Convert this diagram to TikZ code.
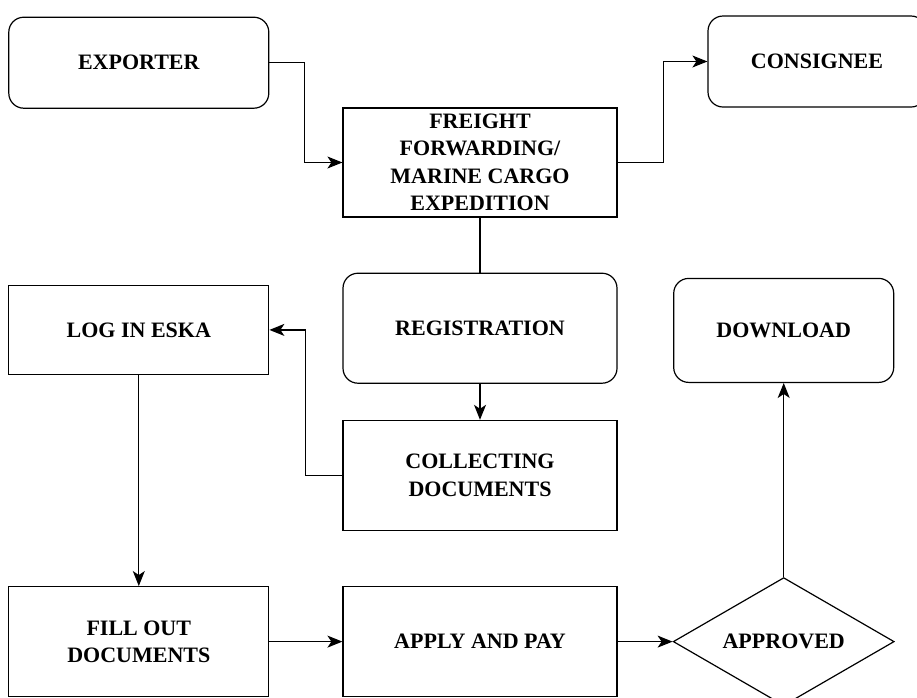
\documentclass[tikz,border=0pt]{standalone}
\usepackage{fontspec}
\setmainfont{Liberation Serif}
\usetikzlibrary{arrows.meta, positioning, shapes.geometric}

\begin{document}
\begin{tikzpicture}[x=1pt, y=-1pt, >={Stealth[length=15pt, width=12pt, inset=4pt]},
  line width=1.2pt,
  font=\fontsize{22}{27.5}\selectfont\bfseries,
  sqbox/.style={draw, align=center, inner sep=2pt, minimum width=274pt, minimum height=110pt},
  box/.style={sqbox, rounded corners=15pt},
  sidebox/.style={sqbox, minimum width=260pt},
  dec/.style={draw, diamond, aspect=1.73, inner sep=0pt, minimum width=221pt, minimum height=128pt}]
\clip (0,0) rectangle (917,697);
\node[sqbox, minimum height=109pt] (freight) at (480,162.5) {FREIGHT\\ FORWARDING/\\ MARINE CARGO\\ EXPEDITION};
\node[box, below=55pt of freight] (reg) {REGISTRATION};
\node[sqbox, below=36pt of reg] (coll) {COLLECTING\\ DOCUMENTS};
\node[sqbox, below=55pt of coll] (apply) {APPLY AND PAY};
\node[sidebox, left=73pt of apply] (fill) {FILL OUT\\ DOCUMENTS};
\node[sidebox, minimum height=89pt, above=211pt of fill] (login) {LOG IN ESKA};
\node[sidebox, rounded corners=15pt, minimum height=91pt, above=176pt of login] (exp) {EXPORTER};
\node[box, minimum width=218pt, minimum height=91pt] (cons) at (817,61.5) {CONSIGNEE};
\node[dec, right=55pt of apply] (appr) {APPROVED};
\node[box, minimum width=220pt, minimum height=104pt, above=194pt of appr] (down) {DOWNLOAD};
\draw[->] (exp.east) -- ++(35,0) |- (freight.west);
\draw[->] (freight.east) -- ++(46,0) |- (cons.west);
\draw (freight) -- (reg);
\draw[->] (reg) -- (coll);
\draw[->] (coll.west) -- ++(-37,0) |- (login.east);
\draw[->] (login) -- (fill);
\draw[->] (fill) -- (apply); \draw[->] (apply) -- (appr);
\draw[->] (appr) -- (down);
\end{tikzpicture}
\end{document}
